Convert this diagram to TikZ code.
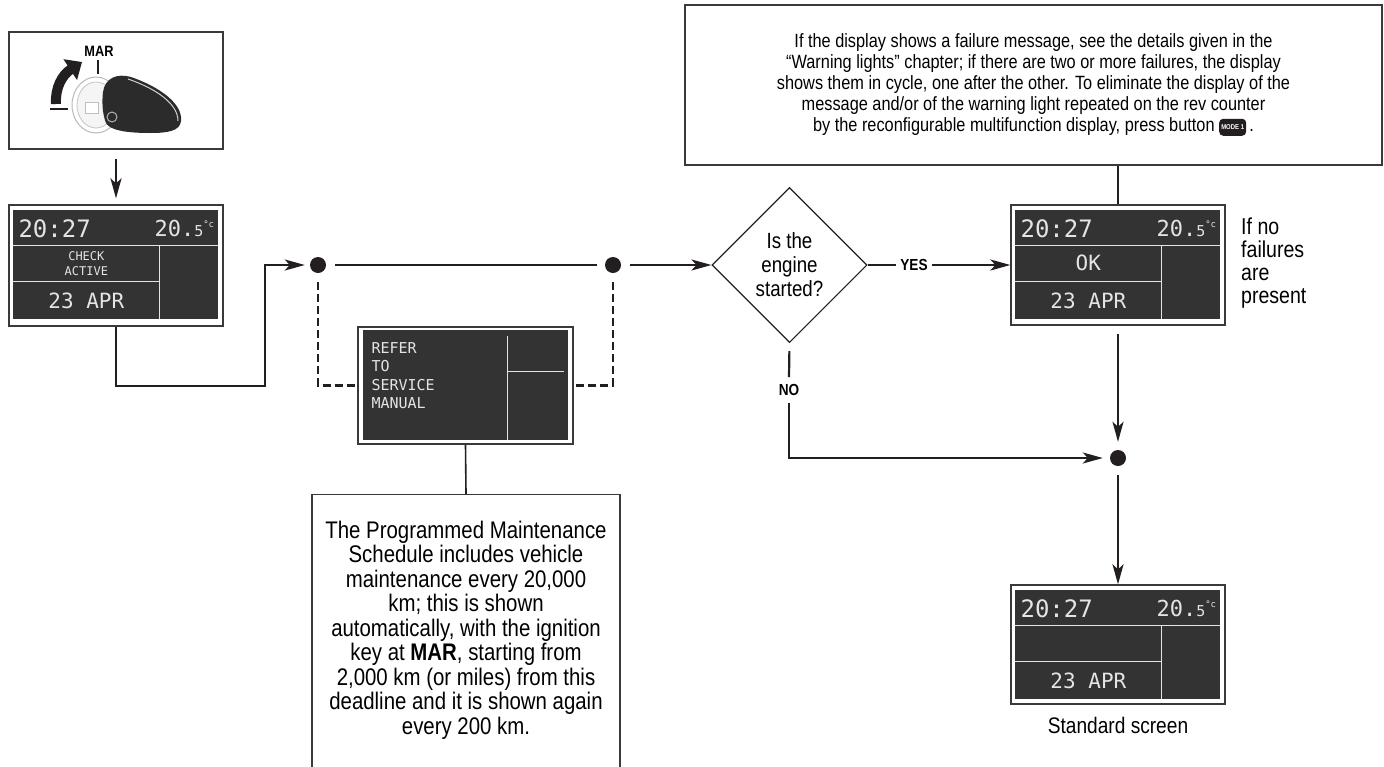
\documentclass[tikz,border=0pt]{standalone}
\usepackage{fontspec}
\setmainfont{Liberation Sans}[FakeStretch=0.85]
\newfontfamily\lcdfont{DejaVu Sans Mono}
\usetikzlibrary{arrows.meta,shapes.geometric,calc}
\definecolor{ink}{HTML}{231F20}
\definecolor{frame}{HTML}{3A3A3A}
\definecolor{lcdbg}{HTML}{333333}
\definecolor{lcdfg}{HTML}{E4E4E4}
\definecolor{keybody}{HTML}{2B2B2B}

\newcommand\fs[2]{\fontsize{#1}{#2}\selectfont}

% small black push-button label used inside running text
\newcommand\modebutton{\tikz[baseline={([yshift=4pt]btn.south)}]\node[draw=none, minimum width=27pt, minimum height=17pt,
  fill=ink, rounded corners=4pt, text=white, font=\fs{7}{7}\bfseries,
  inner xsep=2pt, inner ysep=0pt] (btn) {MODE 1};}

\tikzset{
  conn/.style={draw=ink, line width=2.2pt},
  arr/.style={conn, -{Stealth[length=20pt,width=11pt,inset=5pt]}},
  dashconn/.style={draw=ink, line width=2.2pt, dash pattern=on 8pt off 4pt},
  callout/.style={draw=ink, line width=1.6pt},
  junc/.style={circle, fill=ink, minimum size=16pt, inner sep=0pt},
  panel/.style={draw=frame, line width=1.3pt, fill=white, inner sep=0pt},
  textbox/.style={draw=frame, line width=1.3pt, inner sep=0pt},
  lcdline/.style={draw=lcdfg, line width=1.4pt},
  lcdtxt/.style={text=lcdfg, inner sep=0pt},
  flag/.style={font=\bfseries\fs{16}{16}},
}

% dashboard screen inside a framed panel node:
% #1 = panel node, #2 = font of the message, #3 = message
\newcommand\lcdscreen[3]{%
  \begin{scope}[shift={($(#1.north west)+(5,6)$)}]
    \fill[lcdbg] (0,0) rectangle (205,109);
    \draw[lcdline] (0,35) -- (205,35) (146,35) -- (146,109) (0,71) -- (146,71);
    \node[lcdtxt, anchor=west, font=\lcdfont\fs{24}{24}] (#1-time) at (5,18) {20:27};
    \node[lcdtxt, anchor=east, font=\lcdfont\fs{22}{22}] (#1-temp) at (201,18)
      {20.{\fs{15}{15}5}\raisebox{0.7ex}{\fs{9}{9}°c}};
    \node[lcdtxt, align=center, font=#2] (#1-msg) at (73,53) {#3};
    \node[lcdtxt, font=\lcdfont\fs{21}{21}] (#1-date) at (73,90) {23 APR};
  \end{scope}}

\begin{document}
\begin{tikzpicture}[x=1pt,y=-1pt]
\useasboundingbox (0,0) rectangle (1384,766);
\clip (0,0) rectangle (1384,766);

% ---------- ignition key panel ----------
\node[textbox, minimum width=214pt, minimum height=117pt] (keybox) at (116,90.5) {};
\node[font=\bfseries\fs{15}{15}, inner sep=0pt] (mar) at (99,51) {MAR};
\draw[ink, line width=1.6pt] (98,60) -- (98,74);
\draw[ink, line width=1.6pt] (50,109) -- (68,109);
\draw[ink, line width=10pt, -{Triangle[length=14pt,width=24pt]}]
  (56,104) .. controls (55,88) and (62,75) .. (82,62);
\draw[gray!55, line width=1pt, fill=white] (96,105) ellipse [x radius=24pt, y radius=28pt];
\draw[gray!45, line width=0.8pt, fill=gray!8] (96,105) ellipse [x radius=19pt, y radius=23pt];
\fill[white] (85,102) rectangle (98,113);
\draw[gray!50, line width=0.8pt] (85,102) rectangle (98,113);
\fill[keybody] (103,92) .. controls (105,78) and (117,73) .. (131,77)
  .. controls (160,87) and (183,104) .. (181,121)
  .. controls (180,131) and (168,133) .. (150,133)
  .. controls (130,133) and (110,131) .. (106,123)
  .. controls (102,113) and (102,101) .. (103,92) -- cycle;
\draw[gray!35, line width=1pt] (128,79) .. controls (157,89) and (178,104) .. (178,121);
\draw[gray!60, line width=1pt] (112,117) circle[radius=5pt];

% ---------- first screen: check active ----------
\node[panel, minimum width=214pt, minimum height=121pt] (d1) at (116,265.5) {};
\lcdscreen{d1}{\lcdfont\fs{12}{15}}{CHECK\\ACTIVE}
\draw[arr, shorten <=9pt, shorten >=6pt] (keybox.south) -- (d1.north);

% ---------- junctions ----------
\node[junc] (j1) at (318,265) {};
\node[junc] (j2) at (613,265) {};
\coordinate (k1) at (265,386);
\draw[arr, shorten >=5pt] (d1.south) |- (k1) |- (j1.west);
\draw[conn, shorten <=9pt, shorten >=8pt] (j1.east) -- (j2.west);

% ---------- service screen ----------
\node[panel, minimum width=215pt, minimum height=117pt] (refer) at (465.5,385.5) {};
\begin{scope}[shift={($(refer.north west)+(6,4)$)}]
  \fill[lcdbg] (0,0) rectangle (205,110);
  \draw[lcdline] (144,6) -- (144,110) (144,41) -- (201,41);
  \node[lcdtxt, anchor=north west, align=left, font=\lcdfont\fs{15}{18.5}] (refer-msg) at (8,12)
    {REFER\\TO\\SERVICE\\MANUAL};
\end{scope}
\draw[dashconn, shorten <=9pt] (j1.south) |- (refer.west);
\draw[dashconn, shorten <=9pt] (j2.south) |- (refer.east);

% ---------- maintenance note ----------
\node[textbox, anchor=north, minimum width=308pt, minimum height=320pt] (pms) at (466,494) {};
\node[align=center, font=\fs{24}{24.5}, inner sep=0pt] (pmstext) at (466,630)
  {The Programmed Maintenance\\
   Schedule includes vehicle\\
   maintenance every 20,000\\
   km; this is shown\\
   automatically, with the ignition\\
   key at \textbf{MAR}, starting from\\
   2,000 km (or miles) from this\\
   deadline and it is shown again\\
   every 200 km.};
\draw[callout] (refer.south) -- (pms.north);

% ---------- decision ----------
\node[draw=ink, line width=1.1pt, diamond, aspect=1, minimum width=155pt, minimum height=155pt,
  inner sep=0pt, align=center, font=\fs{22}{24}] (eng) at (789.5,265) {Is the\\engine\\started?};
\draw[arr, shorten <=9pt] (j2.east) -- (eng.west);

\node[panel, minimum width=214pt, minimum height=120pt] (dOK) at (1118,265) {};
\lcdscreen{dOK}{\lcdfont\fs{21}{21}}{OK}

\node[flag, inner sep=4pt] (yes) at (914,265) {YES};
\draw[conn] (eng.east) -- (yes.west);
\draw[arr] (yes.east) -- (dOK.west);

% ---------- failure note ----------
\node[textbox, minimum width=697pt, minimum height=160pt, align=center, font=\fs{19.2}{21}] (info) at (1033.5,85)
  {If the display shows a failure message, see the details given in the\\
   “Warning lights” chapter; if there are two or more failures, the display\\
   shows them in cycle, one after the other. To eliminate the display of the\\
   message and/or of the warning light repeated on the rev counter\\
   by the reconfigurable multifunction display, press button \modebutton\,.};
\draw[callout] (dOK.north) -- (dOK.north |- info.south);

\node[anchor=north west, align=left, font=\fs{23}{23}, inner sep=0pt] (nofail) at (1241,218)
  {If no\\failures\\are\\present};

% ---------- no branch and standard screen ----------
\node[flag, inner sep=7pt] (no) at (789,390) {NO};
\draw[conn, shorten <=8pt] (eng.south) -- (no.north);
\node[junc] (j3) at (1118,458) {};
\draw[arr, shorten >=7pt] (no.south) |- (j3.west);
\draw[arr, shorten <=8pt, shorten >=8pt] (dOK.south) -- (j3.north);

\node[panel, minimum width=214pt, minimum height=119pt] (dStd) at (1118,644.5) {};
\lcdscreen{dStd}{\lcdfont}{}
\draw[arr, shorten <=9pt] (j3.south) -- (dStd.north);
\node[font=\fs{22.5}{22.5}, inner sep=0pt] (stdlbl) at (1118,725) {Standard screen};
\end{tikzpicture}
\end{document}
